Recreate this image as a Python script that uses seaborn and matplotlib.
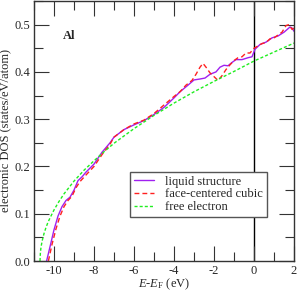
import matplotlib
matplotlib.use("Agg")
import matplotlib.pyplot as plt
import seaborn as sns
import pandas as pd
from matplotlib.ticker import MultipleLocator

sns.set_style("ticks")
plt.rcParams['font.family'] = ['Liberation Serif', 'DejaVu Serif']
plt.rcParams['mathtext.fontset'] = 'custom'
plt.rcParams['mathtext.rm'] = 'Liberation Serif'
plt.rcParams['mathtext.it'] = 'Liberation Serif:italic'

# liquid structure
liq_E = [-10.37, -10.2, -10.0, -9.8, -9.6, -9.4, -9.2, -9.0, -8.8, -8.6, -8.4, -8.0,
         -7.6, -7.2, -7.0, -6.5, -6.0, -5.5, -5.0, -4.5, -4.0, -3.7, -3.3, -3.0,
         -2.7, -2.45, -2.2, -1.9, -1.7, -1.5, -1.3, -1.1, -0.9, -0.6, -0.3, -0.1,
         0.05, 0.3, 0.6, 0.9, 1.2, 1.5, 1.8, 1.9, 2.0]
liq_D = [0.0, 0.03, 0.066, 0.095, 0.115, 0.128, 0.135, 0.150, 0.170, 0.178, 0.188, 0.205,
         0.230, 0.250, 0.262, 0.278, 0.288, 0.297, 0.310, 0.325, 0.345, 0.358, 0.372, 0.383,
         0.385, 0.387, 0.395, 0.400, 0.410, 0.414, 0.413, 0.420, 0.426, 0.426, 0.430, 0.432,
         0.448, 0.458, 0.463, 0.472, 0.476, 0.484, 0.495, 0.493, 0.486]

# face-centered cubic
fcc_E = [-10.28, -10.1, -9.9, -9.7, -9.5, -9.3, -9.1, -8.9, -8.7, -8.4, -8.0, -7.6,
         -7.2, -7.0, -6.5, -6.0, -5.5, -5.0, -4.5, -4.0, -3.7, -3.4, -3.1, -2.9,
         -2.7, -2.55, -2.4, -2.2, -2.0, -1.8, -1.6, -1.4, -1.2, -1.0, -0.8, -0.6,
         -0.4, -0.2, 0.0, 0.2, 0.4, 0.6, 0.8, 1.0, 1.2, 1.4, 1.6, 1.75, 1.9, 2.0]
fcc_D = [0.0, 0.035, 0.068, 0.095, 0.115, 0.128, 0.137, 0.155, 0.168, 0.182, 0.200, 0.225,
         0.247, 0.262, 0.278, 0.290, 0.298, 0.312, 0.330, 0.348, 0.358, 0.372, 0.382, 0.395,
         0.410, 0.418, 0.410, 0.398, 0.390, 0.382, 0.392, 0.405, 0.415, 0.424, 0.430, 0.432,
         0.440, 0.440, 0.450, 0.455, 0.460, 0.462, 0.470, 0.472, 0.478, 0.484, 0.498, 0.500, 0.490, 0.493]

# free electron
fe_E = [-10.7, -10.68, -10.65, -10.6, -10.5, -10.4, -10.3, -10.2, -10.0, -9.75, -9.5,
        -9.0, -8.5, -8.0, -7.5, -7.0, -6.0, -5.0, -4.0, -3.0, -2.0, -1.0, 0.0, 1.0, 2.0]
fe_D = [0.0, 0.018, 0.029, 0.041, 0.058, 0.071, 0.082, 0.091, 0.108, 0.126, 0.142,
        0.169, 0.192, 0.212, 0.231, 0.249, 0.280, 0.308, 0.334, 0.358, 0.380, 0.401, 0.423, 0.442, 0.461]

fig = plt.figure(figsize=(2.97, 2.91), dpi=100)
ax = fig.add_axes([34/297, 30/291, 260/297, 260/291])

sns.lineplot(x=liq_E, y=liq_D, ax=ax, color='#a020f0', lw=1.0, sort=False,
             estimator=None, label='liquid structure')
sns.lineplot(x=fcc_E, y=fcc_D, ax=ax, color='#ff2020', lw=1.0, sort=False,
             estimator=None, label='face-centered cubic', dashes=False)
ax.lines[-1].set_dashes([3.5, 2.2])
sns.lineplot(x=fe_E, y=fe_D, ax=ax, color='#20ee20', lw=1.0, sort=False,
             estimator=None, label='free electron')
ax.lines[-1].set_dashes([2.2, 1.5])

ax.axvline(0, color='black', lw=1.0, zorder=0)

ax.set_xlim(-11, 2)
ax.set_ylim(0, 0.55)
ax.xaxis.set_major_locator(MultipleLocator(2))
ax.xaxis.set_minor_locator(MultipleLocator(1))
ax.yaxis.set_major_locator(MultipleLocator(0.1))
ax.yaxis.set_minor_locator(MultipleLocator(0.05))
ax.set_xticks([-10, -8, -6, -4, -2, 0, 2])
ax.set_xticklabels(['-10', '-8', '-6', '-4', '-2', '0', '2'])
ax.set_yticks([0.0, 0.1, 0.2, 0.3, 0.4, 0.5])
ax.set_yticklabels(['0.0', '0.1', '0.2', '0.3', '0.4', '0.5'])

ax.tick_params(which='both', direction='in', top=True, right=True, labelsize=9,
               color='#333333', width=0.8)
ax.tick_params(which='major', length=11, pad=3)
ax.tick_params(which='minor', length=6.5)
for s in ax.spines.values():
    s.set_linewidth(1.0)
    s.set_color('#333333')

ax.set_xlabel(r'$E$-$E_\mathrm{F}$ (eV)', fontsize=9, labelpad=-0.5)
ax.set_ylabel('electronic DOS (states/eV/atom)', fontsize=9, labelpad=2)

ax.text(-9.55, 0.469, 'Al', fontsize=9, fontweight='bold', ha='left', va='baseline')

leg = ax.legend(loc='lower right', bbox_to_anchor=(0.895, 0.170), fontsize=9,
                fancybox=False, frameon=True, edgecolor='#555555', framealpha=1,
                handlelength=1.6, handletextpad=0.9, labelspacing=0.05,
                borderpad=0.3, borderaxespad=0)
leg.get_frame().set_linewidth(1.0)

fig.savefig('out.png', dpi=100)
